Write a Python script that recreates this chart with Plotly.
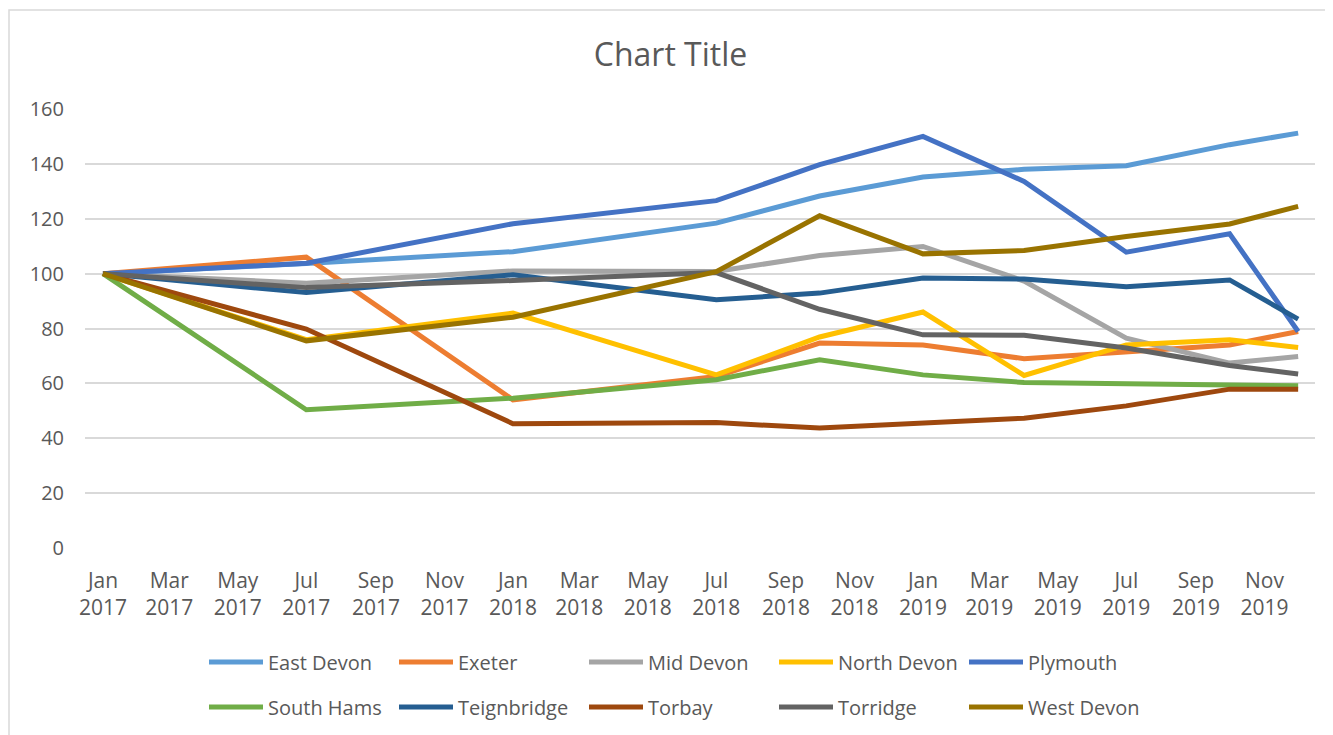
import plotly.graph_objects as go

dates = ["2017-01-01", "2017-07-01", "2018-01-01", "2018-07-01", "2018-10-01",
         "2019-01-01", "2019-04-01", "2019-07-01", "2019-10-01", "2019-12-01"]

series_names = ["East Devon", "Exeter", "Mid Devon", "North Devon", "Plymouth",
                "South Hams", "Teignbridge", "Torbay", "Torridge", "West Devon"]

east_devon = [100, 103.7, 108.0, 118.4, 128.3, 135.2, 138.0, 139.3, 147.0, 151.2]
exeter = [100, 106.0, 54.0, 62.5, 74.7, 74.0, 69.0, 71.6, 74.0, 78.9]
mid_devon = [100, 96.5, 101.0, 100.8, 106.6, 109.9, 97.3, 76.5, 67.4, 69.8]
north_devon = [100, 75.9, 85.6, 63.1, 76.9, 86.0, 62.9, 74.0, 75.9, 73.1]
plymouth = [100, 103.8, 118.2, 126.6, 139.7, 150.0, 133.6, 107.8, 114.5, 78.9]
south_hams = [100, 50.4, 54.6, 61.3, 68.6, 63.1, 60.3, 59.8, 59.4, 59.1]
teignbridge = [100, 93.1, 99.6, 90.5, 92.9, 98.4, 98.0, 95.2, 97.7, 83.4]
torbay = [100, 79.8, 45.3, 45.7, 43.7, 45.7, 47.3, 51.8, 57.9, 57.9]
torridge = [100, 94.9, 97.5, 100.4, 87.0, 77.7, 77.5, 72.9, 66.5, 63.4]
west_devon = [100, 75.5, 84.1, 100.7, 121.1, 107.2, 108.4, 113.5, 118.1, 124.5]

series_values = [east_devon, exeter, mid_devon, north_devon, plymouth,
                 south_hams, teignbridge, torbay, torridge, west_devon]

colors = ["#5B9BD5", "#ED7D31", "#A5A5A5", "#FFC000", "#4472C4",
          "#70AD47", "#255E91", "#9E480E", "#636363", "#997300"]

tick_vals = ["2017-01-01", "2017-03-01", "2017-05-01", "2017-07-01", "2017-09-01", "2017-11-01",
             "2018-01-01", "2018-03-01", "2018-05-01", "2018-07-01", "2018-09-01", "2018-11-01",
             "2019-01-01", "2019-03-01", "2019-05-01", "2019-07-01", "2019-09-01", "2019-11-01"]
tick_text = ["Jan<br>2017", "Mar<br>2017", "May<br>2017", "Jul<br>2017", "Sep<br>2017", "Nov<br>2017",
             "Jan<br>2018", "Mar<br>2018", "May<br>2018", "Jul<br>2018", "Sep<br>2018", "Nov<br>2018",
             "Jan<br>2019", "Mar<br>2019", "May<br>2019", "Jul<br>2019", "Sep<br>2019", "Nov<br>2019"]

FONT = "Open Sans"
TXT = "#595959"

# page body has an 8px default margin; work in figure coordinates = page - 8
OFF = 8
W, H = 1333 - OFF, 735 - OFF
PL, PR, PT, PB = 85 - OFF, 1315 - OFF, 109 - OFF, 548 - OFF
L, R, T, B = PL, W - PR, PT, H - PB
PW, PH = PR - PL, PB - PT

fig = go.Figure()
for i, (name, vals, col) in enumerate(zip(series_names, series_values, colors)):
    fig.add_trace(go.Scatter(
        x=dates, y=vals, name=name, mode="lines",
        line=dict(color=col, width=5),
        legend="legend" if i < 5 else "legend2",
    ))

legend_common = dict(
    orientation="h", entrywidth=121, entrywidthmode="pixels",
    font=dict(family=FONT, size=20, color=TXT),
    bgcolor="rgba(0,0,0,0)", itemwidth=54,
    xanchor="left", yanchor="middle", tracegroupgap=0,
)
leg_x = (210 - OFF - 6 - PL) / PW

fig.update_layout(
    width=W, height=H,
    margin=dict(l=L, r=R, t=T, b=B, autoexpand=False),
    paper_bgcolor="white", plot_bgcolor="white",
    title=dict(text="Chart Title", x=0.5, xanchor="center", y=1 - (55 - OFF) / H, yanchor="middle",
               yref="container", font=dict(family=FONT, size=32, color=TXT)),
    xaxis=dict(
        type="date",
        range=["2016-12-16", "2019-12-16"],
        tickvals=tick_vals, ticktext=tick_text,
        showgrid=False, zeroline=False, showline=False,
        tickfont=dict(family=FONT, size=21, color=TXT),
        ticks="", ticklabelstandoff=18,
    ),
    yaxis=dict(
        range=[0, 160], dtick=20, tick0=0,
        showgrid=True, gridcolor="#D9D9D9", gridwidth=1.5,
        zeroline=False, showline=False,
        tickfont=dict(family=FONT, size=20, color=TXT),
        ticks="", ticklabelstandoff=20,
    ),
    legend=dict(legend_common, x=leg_x, y=-(662 - OFF - PB) / PH),
    legend2=dict(legend_common, x=leg_x, y=-(707 - OFF - PB) / PH),
    showlegend=True,
)

fig.add_shape(type="rect", xref="paper", yref="paper",
              x0=(9 - OFF - PL) / PW, x1=(W + 20 - PL) / PW,
              y0=-(H + 20 - PB) / PH, y1=1 + (PT - (10 - OFF)) / PH,
              line=dict(color="#D9D9D9", width=1.5), fillcolor="rgba(0,0,0,0)", layer="below")

fig.write_html("out.html")
